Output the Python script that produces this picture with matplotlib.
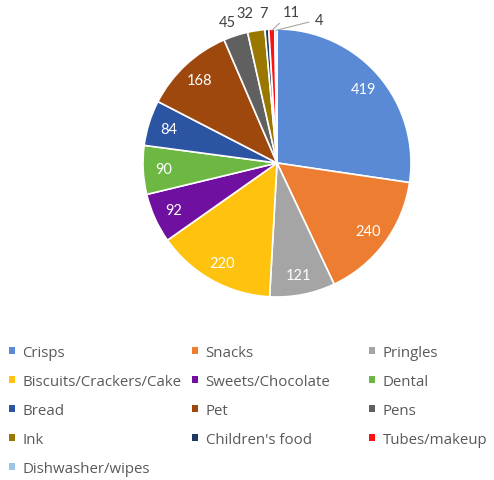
import numpy as np
import matplotlib
matplotlib.use("Agg")
import matplotlib.pyplot as plt
from matplotlib.patches import Patch

plt.rcParams["font.family"] = ["Lato", "DejaVu Sans"]

# ── data ──
categories = ["Crisps", "Snacks", "Pringles", "Biscuits/Crackers/Cake", "Sweets/Chocolate",
              "Dental", "Bread", "Pet", "Pens", "Ink", "Children's food", "Tubes/makeup",
              "Dishwasher/wipes"]
values = [419, 240, 121, 220, 92, 90, 84, 168, 45, 32, 7, 11, 4]
colors = ["#5A8AD6", "#ED7D31", "#A5A5A5", "#FFC20E", "#7010A0", "#6CB843", "#2B54A3",
          "#9E480E", "#606060", "#9A7800", "#1F3864", "#FF1010", "#9DC3E6"]
# small slices: label positions outside the pie (pie radius units)
outside = {"Pens": (-0.37, 1.05), "Ink": (-0.24, 1.12), "Children's food": (-0.10, 1.12)}
leader_text = {"Tubes/makeup": (0.11, 1.13), "Dishwasher/wipes": (0.28, 1.07)}

W, H = 494, 481
fig = plt.figure(figsize=(W / 100, H / 100), dpi=100)
cx, cy, r = 277, 164, 134
ax = fig.add_axes([(cx - r) / W, 1 - (cy + r) / H, 2 * r / W, 2 * r / H])

wedges, _ = ax.pie(values, colors=colors, startangle=90, counterclock=False,
                   wedgeprops=dict(edgecolor="white", linewidth=1.2))
ax.set_xlim(-1, 1); ax.set_ylim(-1, 1); ax.set_aspect("equal")

for w, name, v in zip(wedges, categories, values):
    ang = np.deg2rad((w.theta1 + w.theta2) / 2)
    ca, sa = np.cos(ang), np.sin(ang)
    if name in leader_text:
        ax.annotate(str(v), (ca * 0.99, sa * 0.99), xytext=leader_text[name],
                    ha="left" if name != "Tubes/makeup" else "center", va="center",
                    fontsize=10.5, color="#404040",
                    arrowprops=dict(arrowstyle="-", color="#a6a6a6", lw=0.8,
                                    shrinkA=2, shrinkB=0))
    elif name in outside:
        tx, ty = outside[name]
        ax.text(tx, ty, str(v), ha="center", va="center",
                fontsize=10.5, color="#404040")
    else:
        ax.text(ca * 0.85, sa * 0.85, str(v), ha="center", va="center",
                fontsize=10.5, color="white")

# ── legend: filled row-wise in 3 columns ──
handles = [Patch(facecolor=c, edgecolor="none") for c in colors]
col_x = [9, 192, 369]
for k in range(3):
    idx = list(range(k, len(categories), 3))
    fig.legend([handles[i] for i in idx], [categories[i] for i in idx],
               loc="upper left", bbox_to_anchor=(col_x[k] / W, 1 - 346 / H),
               frameon=False, labelcolor="#595959",
               prop=dict(family=["Open Sans", "DejaVu Sans"], size=10.8),
               handlelength=0.4, handleheight=0.4, handletextpad=0.5,
               labelspacing=0.93, borderaxespad=0, borderpad=0)

fig.savefig("out.png", dpi=100)
